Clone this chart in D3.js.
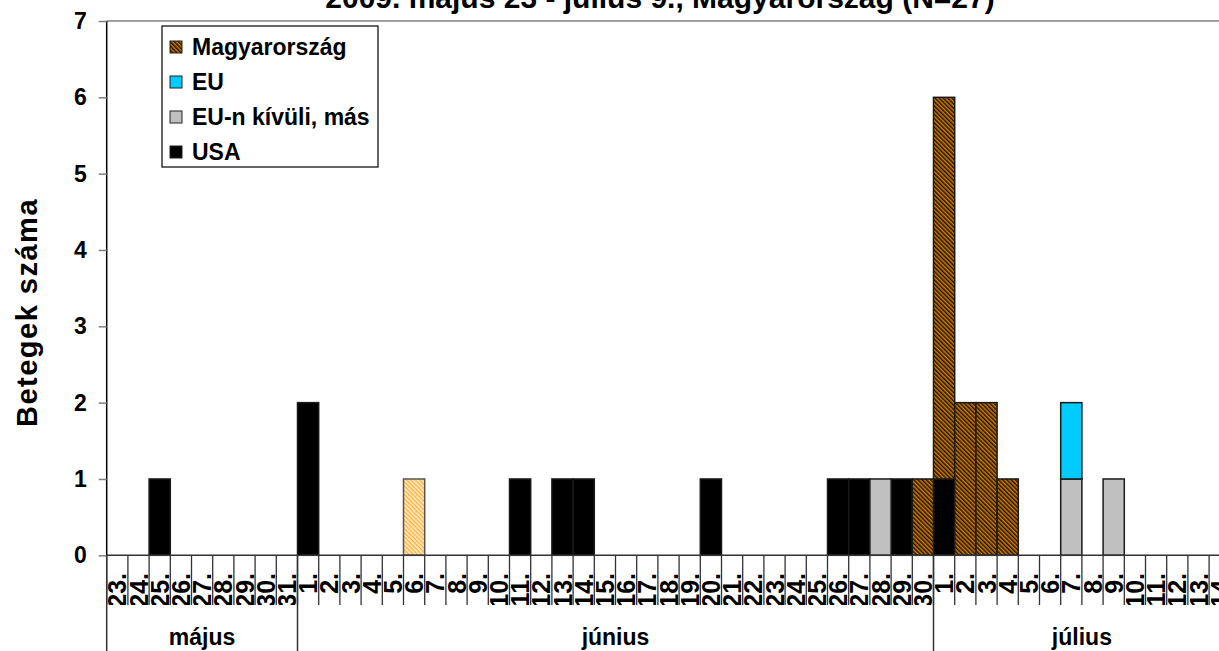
<!DOCTYPE html>
<html>
<head>
<meta charset="utf-8">
<script src="https://cdn.jsdelivr.net/npm/d3@7"></script>
<style>
  html, body { margin: 0; padding: 0; background: #fff; }
  svg { display: block; overflow: hidden; font-family: "Liberation Sans", Arial, sans-serif; font-weight: bold; }
</style>
</head>
<body>
<svg id="chart" width="1219" height="651"></svg>
<script>
// Day labels along the x axis (23 May – 14 July)
const dayLabels = [
  "23.", "24.", "25.", "26.", "27.", "28.", "29.", "30.", "31.",
  "1.", "2.", "3.", "4.", "5.", "6.", "7.", "8.", "9.", "10.",
  "11.", "12.", "13.", "14.", "15.", "16.", "17.", "18.", "19.", "20.",
  "21.", "22.", "23.", "24.", "25.", "26.", "27.", "28.", "29.", "30.",
  "1.", "2.", "3.", "4.", "5.", "6.", "7.", "8.", "9.", "10.",
  "11.", "12.", "13.", "14."
];
const monthLabels = ["május", "június", "július"];
const monthDayCounts = [9, 30, 14];

// Cases per day, by origin of infection
const usa = [
  0, 0, 1, 0, 0, 0, 0, 0, 0,
  2, 0, 0, 0, 0, 0, 0, 0, 0, 0,
  1, 0, 1, 1, 0, 0, 0, 0, 0, 1,
  0, 0, 0, 0, 0, 1, 1, 0, 1, 0,
  1, 0, 0, 0, 0, 0, 0, 0, 0, 0,
  0, 0, 0, 0
];
const outsideEu = [
  0, 0, 0, 0, 0, 0, 0, 0, 0,
  0, 0, 0, 0, 0, 0, 0, 0, 0, 0,
  0, 0, 0, 0, 0, 0, 0, 0, 0, 0,
  0, 0, 0, 0, 0, 0, 0, 1, 0, 0,
  0, 0, 0, 0, 0, 0, 1, 0, 1, 0,
  0, 0, 0, 0
];
const eu = [
  0, 0, 0, 0, 0, 0, 0, 0, 0,
  0, 0, 0, 0, 0, 0, 0, 0, 0, 0,
  0, 0, 0, 0, 0, 0, 0, 0, 0, 0,
  0, 0, 0, 0, 0, 0, 0, 0, 0, 0,
  0, 0, 0, 0, 0, 0, 1, 0, 0, 0,
  0, 0, 0, 0
];
const hungary = [
  0, 0, 0, 0, 0, 0, 0, 0, 0,
  0, 0, 0, 0, 0, 1, 0, 0, 0, 0,
  0, 0, 0, 0, 0, 0, 0, 0, 0, 0,
  0, 0, 0, 0, 0, 0, 0, 0, 0, 1,
  5, 2, 2, 1, 0, 0, 0, 0, 0, 0,
  0, 0, 0, 0
];
// The 6 June domestic case is drawn with the lighter fill
const highlightedDays = [14];

const yTicks = [0, 1, 2, 3, 4, 5, 6, 7];
const titleText = "2009. május 23 - július 9., Magyarország (N=27)";
const yTitle = "Betegek száma";

// Stacking order from the bottom up; legend lists it top-down
const seriesKeys = ["usa", "outsideEu", "eu", "hungary"];
const seriesNames = { hungary: "Magyarország", eu: "EU", outsideEu: "EU-n kívüli, más", usa: "USA" };
const seriesFill = { usa: "#000000", outsideEu: "#C0C0C0", eu: "#00CCFF", hungary: "url(#hatchDark)" };
const legendOrder = ["hungary", "eu", "outsideEu", "usa"];

const svg = d3.select("#chart");
const plotLeft = 106.7, plotRight = 1230.3, plotTop = 21, plotBottom = 555.3;

const x = d3.scaleBand().domain(d3.range(dayLabels.length)).range([plotLeft, plotRight]).padding(0);
const y = d3.scaleLinear().domain([0, 7]).range([plotBottom, plotTop]);

// Fill patterns for the domestic cases
const defs = svg.append("defs");
function hatch(id, bg, fg, w) {
  const p = defs.append("pattern").attr("id", id).attr("patternUnits", "userSpaceOnUse")
    .attr("width", 3).attr("height", 3).attr("patternTransform", "rotate(-45)");
  p.append("rect").attr("width", 3).attr("height", 3).attr("fill", bg);
  p.append("rect").attr("width", w).attr("height", 3).attr("fill", fg);
}
hatch("hatchDark", "#D27F00", "#1E1000", 1.5);
hatch("hatchLight", "#FFB33C", "#FFF3DE", 1.4);

defs.append("clipPath").attr("id", "dayClip")
  .append("rect").attr("x", 0).attr("y", plotBottom).attr("width", 1219).attr("height", 605 - plotBottom);

// Title (partly above the visible area)
svg.append("text").attr("x", 660).attr("y", 8).attr("text-anchor", "middle")
  .attr("font-size", 30).text(titleText);

// Plot frame top line
svg.append("line").attr("x1", plotLeft).attr("x2", 1219).attr("y1", plotTop).attr("y2", plotTop)
  .attr("stroke", "#808080").attr("stroke-width", 1.5);

// Stacked bars
const table = dayLabels.map((d, i) => ({ i, usa: usa[i], outsideEu: outsideEu[i], eu: eu[i], hungary: hungary[i] }));
const stacked = d3.stack().keys(seriesKeys)(table);
const barG = svg.append("g");
stacked.forEach(layer => {
  barG.selectAll(null).data(layer.filter(d => d[1] > d[0])).enter().append("rect")
    .attr("x", d => x(d.data.i))
    .attr("width", x.bandwidth())
    .attr("y", d => y(d[1]))
    .attr("height", d => y(d[0]) - y(d[1]))
    .attr("fill", d => (layer.key === "hungary" && highlightedDays.includes(d.data.i)) ? "url(#hatchLight)" : seriesFill[layer.key])
    .attr("stroke", d => (layer.key === "hungary" && highlightedDays.includes(d.data.i)) ? "#555" : "#1a1a1a")
    .attr("stroke-width", 1.5);
});

// Y axis
const yAxis = d3.axisLeft(y).tickValues(yTicks).tickSize(8).tickPadding(12).tickFormat(d3.format("d"));
const yg = svg.append("g").attr("transform", `translate(${plotLeft},0)`).call(yAxis);
yg.select(".domain").attr("stroke", "#000").attr("stroke-width", 1.5).attr("d", `M0,${plotTop}V${plotBottom}`);
yg.selectAll(".tick line").attr("stroke", "#808080").attr("stroke-width", 1.5);
yg.selectAll(".tick text").attr("font-size", 23).attr("font-weight", "bold")
  .attr("font-family", "Liberation Sans, Arial, sans-serif").attr("fill", "#000");

// Y axis title
svg.append("text").attr("transform", `translate(37,${(195 + 430) / 2}) rotate(-90)`)
  .attr("text-anchor", "middle").attr("font-size", 29).attr("letter-spacing", 1.5).text(yTitle);

// X axis baseline
svg.append("line").attr("x1", plotLeft).attr("x2", 1219).attr("y1", plotBottom).attr("y2", plotBottom)
  .attr("stroke", "#333").attr("stroke-width", 1.5);

// Day separators
const axisG = svg.append("g");
d3.range(dayLabels.length + 1).forEach(i => {
  const xx = i < dayLabels.length ? x(i) : plotRight;
  axisG.append("line").attr("x1", xx).attr("x2", xx).attr("y1", plotBottom).attr("y2", 605)
    .attr("stroke", "#333").attr("stroke-width", 1.3);
});

// Day labels (rotated, clipped to their row)
axisG.append("g").attr("clip-path", "url(#dayClip)")
  .selectAll("text").data(dayLabels).enter().append("text")
  .attr("transform", (d, i) => `translate(${x(i) + x.bandwidth() / 2},573) rotate(-90)`)
  .attr("text-anchor", "end").attr("dy", "0.36em").attr("font-size", 25).text(d => d);

// Month row
let start = 0;
monthLabels.forEach((m, k) => {
  const x0 = x(start);
  const endIdx = start + monthDayCounts[k];
  const x1 = endIdx < dayLabels.length ? x(endIdx) : plotRight;
  axisG.append("line").attr("x1", x0).attr("x2", x0).attr("y1", plotBottom).attr("y2", 651)
    .attr("stroke", "#333").attr("stroke-width", 1.5);
  axisG.append("text").attr("x", (x0 + x1) / 2).attr("y", 645).attr("text-anchor", "middle")
    .attr("font-size", 23).text(m);
  start = endIdx;
});

// Legend
const lg = svg.append("g");
lg.append("rect").attr("x", 162).attr("y", 26).attr("width", 216).attr("height", 141)
  .attr("fill", "#fff").attr("stroke", "#000").attr("stroke-width", 1.2);
legendOrder.forEach((k, j) => {
  const cy = 47 + j * 35;
  lg.append("rect").attr("x", 170).attr("y", cy - 6).attr("width", 12).attr("height", 12)
    .attr("fill", seriesFill[k]).attr("stroke", "#222").attr("stroke-width", 1);
  lg.append("text").attr("x", 192).attr("y", cy).attr("dy", "0.36em").attr("font-size", 23).text(seriesNames[k]);
});
</script>
</body>
</html>
